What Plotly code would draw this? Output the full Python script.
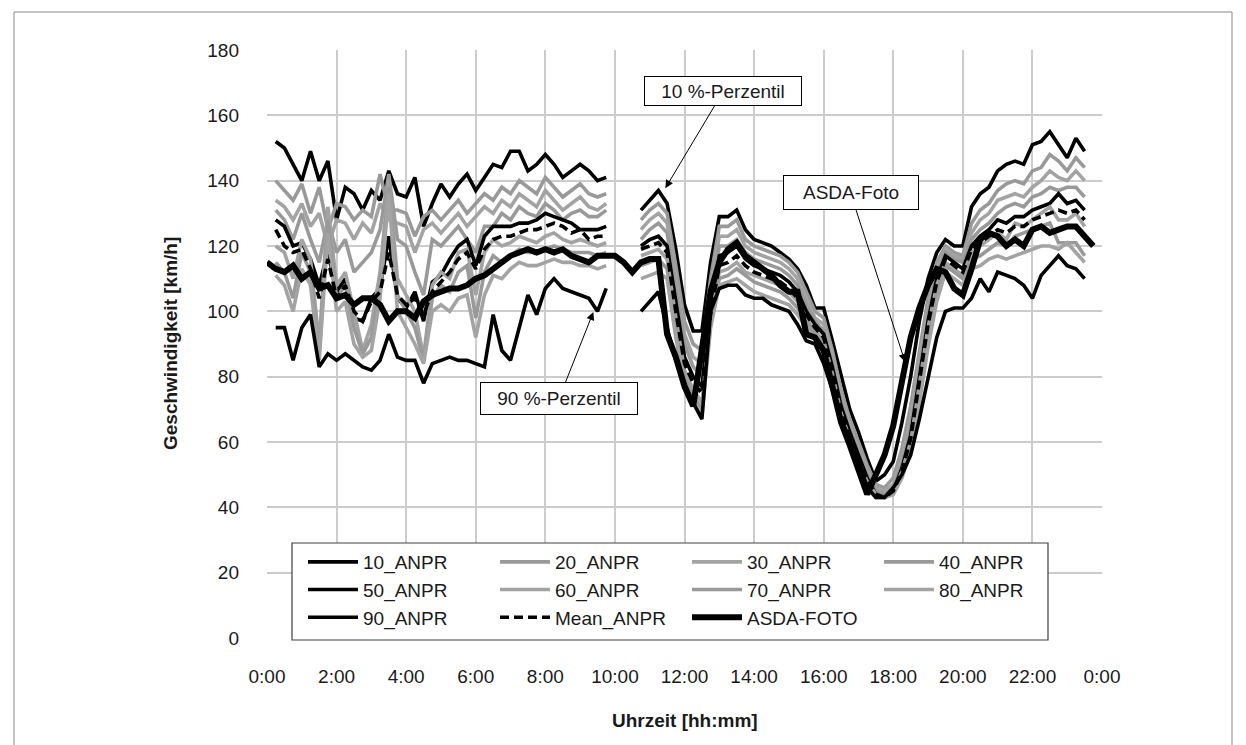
import numpy as np
import plotly.graph_objects as go

# ---------------- data (15-min resolution) ----------------
# ANPR morning block: 0:15 .. 9:45
t_morning = list(np.arange(0.25, 9.76, 0.25))
# ANPR afternoon block: 10:45 .. 23:30
t_afternoon = list(np.arange(10.75, 23.51, 0.25))
# ASDA photo: 0:00 .. 23:45
t_asda = list(np.arange(0.0, 23.76, 0.25))

p10_m = [152,150,145,140,149,140,146,128,138,136,131,137,134,143,136,135,141,126,133,139,
         135,139,142,137,141,145,144,149,149,143,145,148,145,141,143,145,143,140,141]
p20_m = [140,137,134,139,130,138,125,133,132,128,131,129,142,131,131,130,123,129,131,128,
         131,134,130,133,136,134,138,136,140,138,136,141,138,135,137,139,136,135,136]
p30_m = [134,132,128,133,126,130,120,128,127,122,127,124,133,128,127,126,118,125,127,124,
         127,130,126,129,132,130,134,132,136,134,132,137,134,131,133,135,132,131,133]
p40_m = [131,128,122,130,122,115,128,118,122,112,115,118,125,142,122,120,112,105,122,120,
         123,126,122,118,126,126,130,128,132,130,129,133,131,128,130,131,129,129,131]
p50_m = [128,126,120,121,116,108,118,106,110,98,97,104,107,123,104,101,106,97,109,111,
         116,120,122,114,123,126,126,126,127,127,128,130,129,128,127,125,125,125,126]
p60_m = [120,118,110,122,116,90,132,108,112,100,88,96,112,140,110,105,100,86,108,112,
         110,118,119,105,118,122,120,121,123,122,121,123,124,122,121,122,121,120,121]
p70_m = [115,112,104,118,112,87,128,104,108,95,87,92,108,138,105,100,95,85,104,108,
         106,112,114,98,112,117,115,117,119,118,118,119,120,119,118,118,118,117,118]
p80_m = [111,108,100,113,108,85,124,100,103,90,86,88,104,136,100,95,90,84,100,102,
         100,104,105,92,105,111,110,113,115,114,114,115,116,115,115,114,114,113,114]
p90_m = [95,95,85,95,99,83,87,85,87,85,83,82,85,93,86,85,85,78,84,85,
         86,85,85,84,83,99,88,85,95,105,99,107,110,107,106,105,104,100,107]
mean_m = [125,120,118,119,113,104,116,104,108,100,97,103,106,118,105,102,104,99,106,109,
          112,116,118,113,119,122,123,123,124,125,125,126,127,126,124,125,122,123,123]

p10_a = [131,134,137,133,119,102,94,94,115,129,129,131,125,122,121,120,118,116,113,108,
         101,101,91,80,70,63,55,48,50,54,66,80,97,110,118,122,120,120,132,136,
         138,143,145,146,145,151,152,155,151,147,153,149]
p20_a = [128,131,133,130,114,97,90,88,110,126,126,128,122,120,119,118,117,115,112,106,
         100,98,88,76,67,60,53,47,46,49,58,71,88,104,115,120,118,117,127,131,
         133,137,139,140,139,143,144,148,146,143,147,144]
p30_a = [125,128,130,127,110,93,86,84,107,123,123,125,120,118,117,116,115,113,110,104,
         98,96,86,74,65,58,51,46,45,47,55,67,85,101,113,119,117,116,124,128,
         130,134,135,136,135,138,140,143,141,140,143,140]
p40_a = [122,125,127,124,107,90,83,80,104,120,120,122,118,116,115,114,113,111,108,102,
         97,94,84,72,64,57,50,45,44,46,53,64,82,99,111,118,116,115,122,125,
         127,130,132,133,132,135,136,138,137,138,138,135]
p50_a = [120,122,123,120,103,86,80,77,101,117,118,120,116,114,113,112,111,109,106,100,
         96,93,83,71,63,56,49,44,43,45,52,62,79,97,110,117,115,113,120,123,
         125,128,127,129,129,131,132,133,136,133,134,131]
p60_a = [117,118,119,116,98,82,76,72,97,112,113,115,112,111,110,109,108,106,103,98,
         94,91,81,69,61,54,48,44,43,45,51,60,77,95,108,115,113,111,118,120,
         122,124,122,127,126,128,130,132,128,128,130,126]
p70_a = [114,115,116,113,95,80,74,70,96,110,111,113,111,109,108,107,106,104,101,97,
         93,90,80,68,60,53,47,43,43,44,50,59,75,93,106,114,112,110,116,117,
         119,121,120,123,124,125,126,127,121,121,121,117]
p80_a = [110,111,112,110,92,78,72,68,95,108,109,110,108,106,105,104,103,102,99,95,
         92,89,79,67,59,52,46,43,43,44,49,57,72,89,103,112,110,108,113,114,
         116,117,116,117,118,119,120,120,119,121,118,115]
p90_a = [100,103,106,95,85,78,72,67,100,107,108,108,105,104,104,102,101,100,96,91,
         90,84,76,67,61,55,46,43,43,46,50,56,67,80,92,100,101,101,104,110,
         106,112,111,110,108,104,111,114,117,114,113,110]
mean_a = [119,120,121,118,100,84,78,75,99,114,115,117,114,112,111,110,109,107,104,99,
          95,92,82,70,62,55,48,44,43,45,51,61,78,96,109,116,114,112,119,121,
          123,125,124,126,126,128,129,130,131,130,131,128]

asda = [115,113,112,114,110,112,107,108,104,105,102,104,104,102,97,100,100,98,103,105,
        106,107,107,108,110,111,113,115,117,118,119,118,119,118,119,117,116,115,117,117,
        117,115,112,115,116,116,93,86,77,71,90,106,115,119,121,117,115,113,111,108,
        106,106,93,92,88,77,66,59,52,44,50,56,65,79,92,101,108,113,112,107,
        105,113,122,124,123,120,122,120,125,126,124,125,126,126,123,120]

x_tick_vals = [0, 2, 4, 6, 8, 10, 12, 14, 16, 18, 20, 22, 24]
x_tick_text = ["0:00", "2:00", "4:00", "6:00", "8:00", "10:00", "12:00", "14:00",
               "16:00", "18:00", "20:00", "22:00", "0:00"]

series_names = ["10_ANPR", "20_ANPR", "30_ANPR", "40_ANPR", "50_ANPR",
                "60_ANPR", "70_ANPR", "80_ANPR", "90_ANPR", "Mean_ANPR"]
series_m = [p10_m, p20_m, p30_m, p40_m, p50_m, p60_m, p70_m, p80_m, p90_m, mean_m]
series_a = [p10_a, p20_a, p30_a, p40_a, p50_a, p60_a, p70_a, p80_a, p90_a, mean_a]

# ---------------- styles ----------------
BLACK = "#000000"
GREY = "#999999"
LW = 3.6
styles = {
    "10_ANPR": dict(color=BLACK, width=LW),
    "20_ANPR": dict(color=GREY, width=LW),
    "30_ANPR": dict(color="#a3a3a3", width=LW),
    "40_ANPR": dict(color=GREY, width=LW),
    "50_ANPR": dict(color=BLACK, width=LW),
    "60_ANPR": dict(color="#a3a3a3", width=LW),
    "70_ANPR": dict(color=GREY, width=LW),
    "80_ANPR": dict(color="#a3a3a3", width=LW),
    "90_ANPR": dict(color=BLACK, width=LW),
    "Mean_ANPR": dict(color=BLACK, width=LW, dash="9px,5px"),
}

fig = go.Figure()
for name, vm, va in zip(series_names, series_m, series_a):
    xs = t_morning + [None] + t_afternoon
    ys = vm + [None] + va
    fig.add_trace(go.Scatter(x=xs, y=ys, mode="lines", name=name,
                             line=styles[name], connectgaps=False,
                             hoverinfo="skip"))
fig.add_trace(go.Scatter(x=t_asda, y=asda, mode="lines", name="ASDA-FOTO",
                         line=dict(color=BLACK, width=6), hoverinfo="skip"))

FONT = "Liberation Sans, Arial, sans-serif"
OFF = 8  # page body margin
W, H = 1246 - OFF, 745 - OFF
L, R, T, B = 259, 144, 42, 107
pw, ph = W - L - R, H - T - B
TXT = "#1a1a1a"

def px2paper(px, py):
    """page pixel -> paper coordinates"""
    return (px - OFF - L) / pw, (OFF + H - B - py) / ph

fig.update_layout(
    width=W, height=H,
    margin=dict(l=L, r=R, t=T, b=B),
    paper_bgcolor="white", plot_bgcolor="white",
    font=dict(family=FONT, size=19, color=TXT),
    showlegend=True,
    legend=dict(
        orientation="h",
        x=px2paper(303, 0)[0], xanchor="left",
        y=px2paper(0, 543)[1], yanchor="top",
        bgcolor="rgba(0,0,0,0)", borderwidth=0,
        font=dict(family=FONT, size=19, color=TXT),
        entrywidth=127, entrywidthmode="pixels",
        itemwidth=50,
        traceorder="normal",
    ),
    xaxis=dict(
        range=[0, 24], tickmode="array", tickvals=x_tick_vals, ticktext=x_tick_text,
        showgrid=True, gridcolor="#cccccc", gridwidth=1.5,
        zeroline=False, showline=False, ticks="",
        ticklabelstandoff=25,
        tickfont=dict(family=FONT, size=19, color=TXT),
    ),
    yaxis=dict(
        range=[0, 180], dtick=20,
        showgrid=True, gridcolor="#cccccc", gridwidth=1.5,
        zeroline=False, showline=False, ticks="",
        ticklabelstandoff=27,
        tickfont=dict(family=FONT, size=19, color=TXT),
    ),
)

# axis titles
fig.add_annotation(text="<b>Uhrzeit [hh:mm]</b>", xref="paper", yref="paper",
                   x=0.5, y=px2paper(0, 720)[1], showarrow=False,
                   font=dict(family=FONT, size=19, color=TXT),
                   xanchor="center", yanchor="middle")
fig.add_annotation(text="<b>Geschwindigkeit [km/h]</b>", xref="paper", yref="paper",
                   x=px2paper(170, 0)[0], y=px2paper(0, 344)[1], showarrow=False,
                   textangle=-90,
                   font=dict(family=FONT, size=19, color=TXT),
                   xanchor="center", yanchor="middle")

# callouts
callouts = [
    ("10 %-Perzentil", 11.45, 137.7, 58, -97, 150, 22),
    ("ASDA-Foto", 18.34, 84.5, -54.5, -169, 128, 27),
    ("90 %-Perzentil", 9.38, 99.8, -34.5, 87, 150, 25),
]
for txt, hx, hy, ax, ay, w, h in callouts:
    fig.add_annotation(text=txt, x=hx, y=hy, xref="x", yref="y",
                       ax=ax, ay=ay, showarrow=True,
                       arrowhead=2, arrowsize=1.6, arrowwidth=1, arrowcolor="#000000",
                       bgcolor="white", bordercolor="#000000", borderwidth=1,
                       borderpad=3, width=w, height=h,
                       font=dict(family=FONT, size=19, color=TXT))

# legend frame (drawn as shape so its size matches the reference)
lx0, ly0 = px2paper(292, 543)
lx1, ly1 = px2paper(1048, 640)
fig.add_shape(type="rect", xref="paper", yref="paper", x0=lx0, y0=ly1, x1=lx1, y1=ly0,
              line=dict(color="#404040", width=1.2), fillcolor="white", layer="above")

# outer chart border
x0, y0 = px2paper(14, 12)
x1, y1 = px2paper(1232, 760)
fig.add_shape(type="rect", xref="paper", yref="paper", x0=x0, y0=y1, x1=x1, y1=y0,
              line=dict(color="#8a8a8a", width=1), fillcolor="rgba(0,0,0,0)",
              layer="below")

fig.write_html("out.html")
